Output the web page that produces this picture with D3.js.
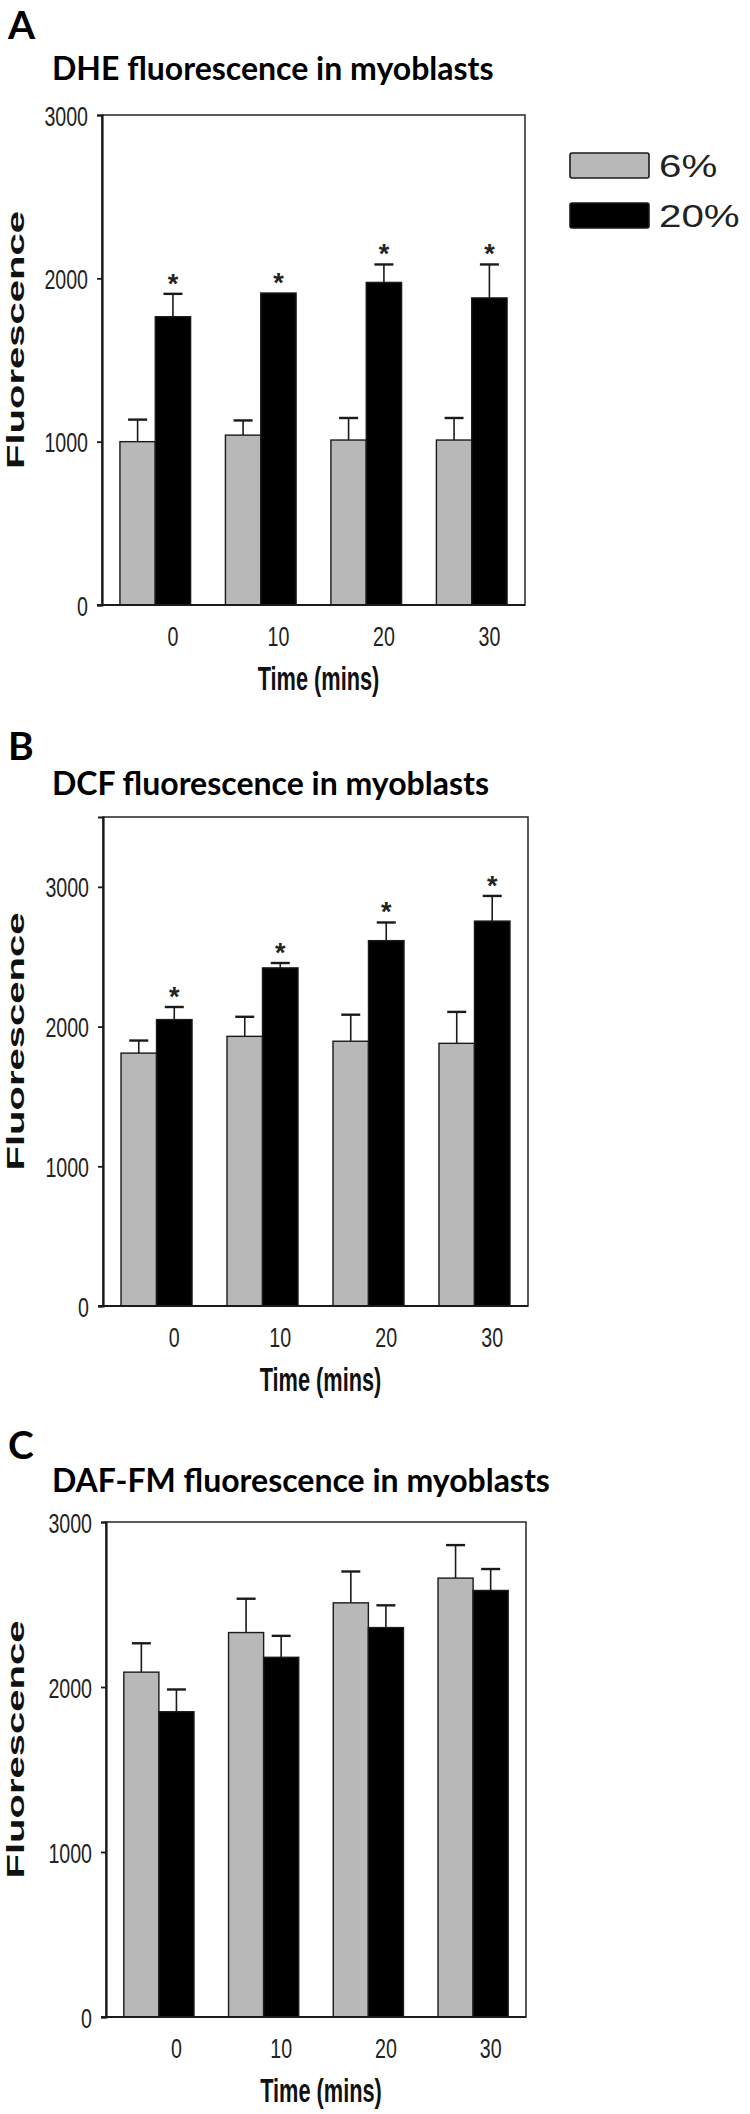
<!DOCTYPE html>
<html>
<head>
<meta charset="utf-8">
<script src="https://cdn.jsdelivr.net/npm/d3@7"></script>
<style>
  html, body { margin: 0; padding: 0; background: #fff; }
  svg { display: block; }
</style>
</head>
<body>
<svg id="chart" width="750" height="2114"></svg>
<script>
// ---------- data ----------
const categories = ["0", "10", "20", "30"];
const seriesNames = ["6%", "20%"];
const yTicks = [0, 1000, 2000, 3000];

const dheMean6  = [1000, 1040, 1010, 1010];
const dheErr6   = [135, 90, 135, 135];
const dheMean20 = [1765, 1910, 1975, 1880];
const dheErr20  = [140, 0, 110, 205];
const dheSig20  = [true, true, true, true];

const dcfMean6  = [1810, 1930, 1895, 1880];
const dcfErr6   = [90, 140, 190, 225];
const dcfMean20 = [2050, 2420, 2615, 2755];
const dcfErr20  = [90, 35, 130, 180];
const dcfSig20  = [true, true, true, true];

const dafMean6  = [2090, 2330, 2510, 2660];
const dafErr6   = [175, 205, 190, 200];
const dafMean20 = [1850, 2180, 2360, 2585];
const dafErr20  = [135, 130, 135, 130];
const dafSig20  = [false, false, false, false];

const panelLetters = ["A", "B", "C"];
const panelTitles = ["DHE fluorescence in myoblasts", "DCF fluorescence in myoblasts", "DAF-FM fluorescence in myoblasts"];
const xTitle = "Time (mins)";
const yTitle = "Fluorescence";

// ---------- style ----------
const colors = { "6%": "#b8b8b8", "20%": "#000000" };
const stroke = "#1a1a1a";
const tickFont = "'Liberation Sans', Arial, sans-serif";
const titleFont = "Lato, 'Open Sans', sans-serif";

const svg = d3.select("#chart");

function squeeze(sel, f) {
  sel.each(function () {
    const w = this.getComputedTextLength();
    this.setAttribute("textLength", w * f);
    this.setAttribute("lengthAdjust", "spacingAndGlyphs");
  });
}

const panels = [
  { letter: panelLetters[0], title: panelTitles[0], m6: dheMean6, e6: dheErr6, m20: dheMean20, e20: dheErr20, sig: dheSig20,
    left: 102, right: 525, top: 115, bottom: 605, ymax: 3000, letterY: 39, titleY: 80, legend: true },
  { letter: panelLetters[1], title: panelTitles[1], m6: dcfMean6, e6: dcfErr6, m20: dcfMean20, e20: dcfErr20, sig: dcfSig20,
    left: 103, right: 528, top: 817, bottom: 1306, ymax: 3500, letterY: 760, titleY: 795, legend: false },
  { letter: panelLetters[2], title: panelTitles[2], m6: dafMean6, e6: dafErr6, m20: dafMean20, e20: dafErr20, sig: dafSig20,
    left: 106, right: 526, top: 1522, bottom: 2017, ymax: 3000, letterY: 1459, titleY: 1492, legend: false }
];

panels.forEach(p => {
  const g = svg.append("g");

  // panel letter & title
  g.append("text").attr("x", 8).attr("y", p.letterY)
    .attr("font-family", titleFont).attr("font-weight", 700).attr("font-size", 39)
    .text(p.letter);
  g.append("text").attr("x", 52).attr("y", p.titleY)
    .attr("font-family", titleFont).attr("font-weight", 700).attr("font-size", 32)
    .text(p.title);

  const x = d3.scaleBand().domain(categories).range([p.left, p.right])
    .paddingInner(0.33).paddingOuter(0.17);
  const xs = d3.scaleBand().domain(seriesNames).range([0, x.bandwidth()]);
  const y = d3.scaleLinear().domain([0, p.ymax]).range([p.bottom, p.top]);

  const rows = categories.map((c, i) => ({
    cat: c,
    vals: [
      { s: "6%", v: p.m6[i], e: p.e6[i], sig: false },
      { s: "20%", v: p.m20[i], e: p.e20[i], sig: p.sig[i] }
    ]
  }));

  // frame (top/right border)
  g.append("rect").attr("x", p.left).attr("y", p.top)
    .attr("width", p.right - p.left).attr("height", p.bottom - p.top)
    .attr("fill", "none").attr("stroke", "#333").attr("stroke-width", 1.6);

  const grp = g.selectAll("g.grp").data(rows).join("g")
    .attr("class", "grp").attr("transform", d => `translate(${x(d.cat)},0)`);

  // error bars (upward only)
  grp.selectAll("g.err").data(d => d.vals.filter(v => v.e > 0)).join("g").attr("class", "err")
    .each(function (d) {
      const cx = xs(d.s) + xs.bandwidth() / 2;
      const gg = d3.select(this);
      gg.append("line").attr("x1", cx).attr("x2", cx).attr("y1", y(d.v)).attr("y2", y(d.v + d.e))
        .attr("stroke", stroke).attr("stroke-width", 1.6);
      gg.append("line").attr("x1", cx - 9.5).attr("x2", cx + 9.5).attr("y1", y(d.v + d.e)).attr("y2", y(d.v + d.e))
        .attr("stroke", stroke).attr("stroke-width", 2.4);
    });

  // bars
  grp.selectAll("rect.bar").data(d => d.vals).join("rect").attr("class", "bar")
    .attr("x", d => xs(d.s)).attr("width", xs.bandwidth())
    .attr("y", d => y(d.v)).attr("height", d => y(0) - y(d.v))
    .attr("fill", d => colors[d.s]).attr("stroke", stroke).attr("stroke-width", 1.4);

  // significance stars
  grp.selectAll("text.star").data(d => d.vals.filter(v => v.sig)).join("text").attr("class", "star")
    .attr("x", d => xs(d.s) + xs.bandwidth() / 2)
    .attr("y", d => y(d.v + d.e) - 1)
    .attr("text-anchor", "middle")
    .attr("font-family", tickFont).attr("font-weight", 700).attr("font-size", 27)
    .attr("fill", "#222")
    .text("*");

  // y axis
  const ya = g.append("g").attr("transform", `translate(${p.left},0)`)
    .call(d3.axisLeft(y).tickValues(yTicks).tickSize(5).tickPadding(9).tickFormat(d3.format("d")));
  ya.select(".domain").attr("stroke", stroke).attr("stroke-width", 2.2);
  ya.selectAll(".tick line").attr("stroke", stroke).attr("stroke-width", 1.8);
  ya.selectAll(".tick text").attr("font-family", tickFont).attr("font-size", 28).attr("fill", "#222").attr("dy", "0.36em");
  squeeze(ya.selectAll(".tick text"), 0.7);

  // x axis (labels centred under the 20% bars)
  const xa = g.append("g").attr("transform", `translate(0,${p.bottom})`)
    .call(d3.axisBottom(x).tickSize(0).tickPadding(0));
  xa.select(".domain").attr("d", `M${p.left - 5},0H${p.right}`).attr("stroke", stroke).attr("stroke-width", 2.2);
  xa.selectAll(".tick text")
    .attr("x", x.bandwidth() / 4).attr("y", 41).attr("dy", null)
    .attr("font-family", tickFont).attr("font-size", 28).attr("fill", "#222");
  squeeze(xa.selectAll(".tick text"), 0.7);

  // axis titles
  const xt = g.append("text").attr("x", (p.left + p.right) / 2 + 5).attr("y", p.bottom + 85)
    .attr("text-anchor", "middle").attr("font-family", tickFont).attr("font-weight", 700)
    .attr("font-size", 34).attr("fill", "#111").text(xTitle);
  squeeze(xt, 0.64);

  g.append("text")
    .attr("transform", `translate(24,${(p.top + p.bottom) / 2 - 20}) rotate(-90)`)
    .attr("text-anchor", "middle").attr("font-family", tickFont).attr("font-weight", 700)
    .attr("font-size", 24).attr("fill", "#111")
    .attr("textLength", 258).attr("lengthAdjust", "spacingAndGlyphs")
    .text(yTitle);

  // legend
  if (p.legend) {
    const lg = g.append("g");
    const items = lg.selectAll("g").data(seriesNames).join("g")
      .attr("transform", (d, i) => `translate(570,${153 + i * 50})`);
    items.append("rect").attr("width", 79).attr("height", 25).attr("rx", 2)
      .attr("fill", d => colors[d]).attr("stroke", stroke).attr("stroke-width", 1.6);
    const lt = items.append("text").attr("x", 89).attr("y", 24)
      .attr("font-family", tickFont).attr("font-size", 31).attr("fill", "#222")
      .text(d => d);
    squeeze(lt, 1.3);
  }
});
</script>
</body>
</html>
